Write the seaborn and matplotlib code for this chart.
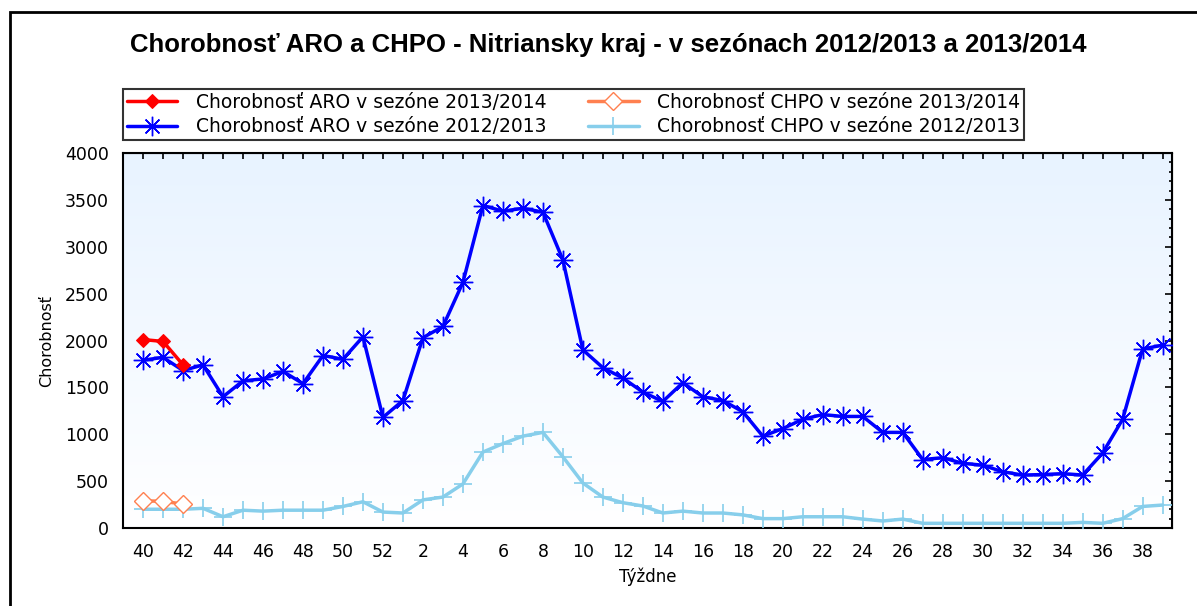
import numpy as np
import pandas as pd
import matplotlib
matplotlib.use('Agg')
import matplotlib.pyplot as plt
from matplotlib.patches import Rectangle
import seaborn as sns


OUT_PATH = 'out.png'

# season weeks 40..52, 1..39
weeks = list(range(40, 53)) + list(range(1, 40))

aro_1213 = [1790, 1820, 1680, 1740, 1400, 1570, 1590, 1670, 1540, 1840, 1800, 2040, 1180,
            1360, 2030, 2150, 2620, 3440, 3380, 3410, 3370, 2860, 1900, 1710, 1600, 1450,
            1350, 1550, 1400, 1360, 1240, 980, 1060, 1160, 1210, 1190, 1190, 1020, 1020,
            730, 750, 690, 670, 600, 565, 570, 580, 565, 800, 1160, 1910, 1950]
chpo_1213 = [200, 200, 200, 210, 120, 190, 180, 190, 190, 190, 230, 280, 170,
             160, 300, 330, 470, 810, 900, 980, 1020, 760, 480, 330, 270, 235,
             160, 180, 160, 160, 140, 100, 100, 120, 120, 120, 95, 75, 95,
             50, 50, 50, 50, 50, 50, 50, 50, 60, 50, 100, 230, 245]
aro_1314 = [2010, 1990, 1740]
chpo_1314 = [290, 285, 255]

labels = {
    'aro_1314': 'Chorobnosť ARO v sezóne 2013/2014',
    'aro_1213': 'Chorobnosť ARO v sezóne 2012/2013',
    'chpo_1314': 'Chorobnosť CHPO v sezóne 2013/2014',
    'chpo_1213': 'Chorobnosť CHPO v sezóne 2012/2013',
}


def make_frame(values):
    return pd.DataFrame({'idx': np.arange(len(values)), 'val': values})


def main():
    sns.set_style('white')
    plt.rcParams['font.family'] = ['DejaVu Sans']
    plt.rcParams['text.color'] = 'black'
    plt.rcParams['axes.labelcolor'] = 'black'
    plt.rcParams['xtick.color'] = 'black'
    plt.rcParams['ytick.color'] = 'black'

    fig = plt.figure(figsize=(11.97, 6.06), dpi=100)
    ax = fig.add_axes([0.1028, 0.1287, 0.876, 0.6188])

    # soft blue gradient background
    grad = np.linspace(0, 1, 256).reshape(-1, 1)
    cmap = matplotlib.colors.LinearSegmentedColormap.from_list('bg', ['#ffffff', '#e8f3ff'])
    ax.imshow(grad, aspect='auto', cmap=cmap, extent=[0, 1, 0, 1], origin='lower',
              transform=ax.transAxes, zorder=0)

    sns.lineplot(data=make_frame(aro_1314), x='idx', y='val', ax=ax, color='#ff0000',
                 lw=2.5, marker='D', markersize=7, markeredgecolor='#ff0000',
                 label=labels['aro_1314'], zorder=5)
    sns.lineplot(data=make_frame(aro_1213), x='idx', y='val', ax=ax, color='#0000ff',
                 lw=2.5, marker=(8, 2, 0), markersize=14, markeredgewidth=1.0,
                 markeredgecolor='#0000ff', label=labels['aro_1213'], zorder=4)
    sns.lineplot(data=make_frame(chpo_1314), x='idx', y='val', ax=ax, color='#ff8050',
                 lw=2.5, marker='D', markersize=9, markerfacecolor='white',
                 markeredgecolor='#ff8050', markeredgewidth=1.0, label=labels['chpo_1314'], zorder=5)
    sns.lineplot(data=make_frame(chpo_1213), x='idx', y='val', ax=ax, color='#87ceeb',
                 lw=2.5, marker='+', markersize=13, markeredgewidth=1.2,
                 markeredgecolor='#87ceeb', label=labels['chpo_1213'], zorder=3)

    ax.set_xlim(-1, 51.45)
    ax.set_ylim(0, 4000)
    ax.set_xticks(np.arange(0, len(weeks), 2))
    ax.set_xticklabels([str(w) for w in weeks[::2]], fontsize=12.5)
    ax.set_xticks(np.arange(len(weeks)), minor=True)
    ax.set_yticks(np.arange(0, 4001, 500))
    ax.set_yticklabels([str(v) for v in range(0, 4001, 500)], fontsize=12.5)
    ax.set_yticks(np.arange(0, 4001, 100), minor=True)

    ax.tick_params(axis='both', which='both', color='black', width=1.2, top=False, right=False)
    ax.tick_params(axis='x', which='major', direction='inout', length=9, pad=6)
    ax.tick_params(axis='x', which='minor', direction='inout', length=6)
    ax.tick_params(axis='y', which='major', direction='inout', length=10, pad=5)
    ax.tick_params(axis='y', which='minor', direction='inout', length=6)
    for side in ['left', 'bottom', 'top', 'right']:
        ax.spines[side].set_visible(True)
        ax.spines[side].set_color('black')
        ax.spines[side].set_linewidth(1.5)

    # inward ticks on the top and right frame
    top = ax.secondary_xaxis('top')
    top.set_xticks(np.arange(len(weeks)))
    top.tick_params(direction='in', length=4, width=1.2, labeltop=False)
    right = ax.secondary_yaxis('right')
    right.set_yticks(np.arange(0, 4001, 500))
    right.set_yticks(np.arange(0, 4001, 100), minor=True)
    right.tick_params(which='major', direction='in', length=5, width=1.2, labelright=False)
    right.tick_params(which='minor', direction='in', length=2.5, width=1.2)

    ax.set_xlabel('Týždne', fontsize=12, labelpad=5)
    ax.set_ylabel('Chorobnosť', fontsize=11.5, labelpad=8)

    handles, labs = ax.get_legend_handles_labels()
    leg = ax.legend(handles, labs, ncol=2, loc='lower left', bbox_to_anchor=(0.0, 1.035),
                    fontsize=13.5, frameon=True, fancybox=False,
                    borderpad=0.2, handlelength=2.7, handletextpad=1.0, labelspacing=0.3,
                    columnspacing=2.2, borderaxespad=0)
    leg.get_frame().set_edgecolor('black')
    leg.get_frame().set_linewidth(1.5)

    fig.text(0.508, 0.925, 'Chorobnosť ARO a CHPO - Nitriansky kraj - v sezónach 2012/2013 a 2013/2014',
             ha='center', va='center', fontsize=18.5, fontweight='bold', family='Liberation Sans')

    # outer frame of the image
    fig.patches.append(Rectangle((10 / 1197, -0.1), 1.2, 1.1 - 12 / 606, transform=fig.transFigure,
                                 fill=False, edgecolor='black', linewidth=2))

    fig.savefig(OUT_PATH, dpi=100)
    plt.close(fig)


if __name__ == '__main__':
    main()
